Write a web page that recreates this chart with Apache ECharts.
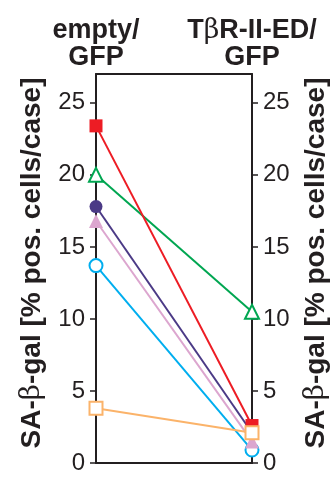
<!DOCTYPE html>
<html><head><meta charset="utf-8">
<script src="https://cdn.jsdelivr.net/npm/echarts@6/dist/echarts.min.js"></script>
<style>html,body{margin:0;padding:0;background:#fff}#c{width:333px;height:477px}</style>
</head><body><div id="c"></div>
<script>
const categories = ['empty/\nGFP', 'T{b|β}R-II-ED/\nGFP'];
const yTicks = [0, 5, 10, 15, 20, 25];
const redVals = [23.4, 2.6];
const greenVals = [20.0, 10.5];
const purpleVals = [17.8, 2.1];
const pinkVals = [16.8, 1.5];
const cyanVals = [13.7, 0.9];
const orangeVals = [3.8, 2.1];

const ink = '#231f20';
const font = '"Liberation Sans", Arial, sans-serif';
const serif = '"DejaVu Serif", "Liberation Serif", serif';
const yName = 'SA-{b|β}-gal [% pos. cells/case]';

function mkY(pos, gap) {
  return {
    type: 'value', position: pos, min: 0, max: 27,
    name: yName, nameLocation: 'middle', nameRotate: 90, nameGap: gap,
    nameTextStyle: { fontFamily: font, fontWeight: 'bold', fontSize: 28, color: ink, padding: [0, 0, 0, 11],
      rich: { b: { fontFamily: serif, fontWeight: 'normal', fontSize: 28, color: ink } } },
    axisLine: { show: true, onZero: false, lineStyle: { color: ink, width: 2 } },
    axisTick: { show: true, inside: false, length: 6, lineStyle: { color: ink, width: 1.5 }, customValues: yTicks },
    axisLabel: { show: true, margin: 11, fontFamily: font, fontSize: 24, color: ink, customValues: yTicks },
    splitLine: { show: false }
  };
}

function mkSeries(vals, color, symbol, hollow) {
  return {
    type: 'line', data: vals, xAxisIndex: 0, yAxisIndex: 0,
    symbol: symbol, symbolSize: symbol === 'triangle' ? 14 : 13,
    clip: false,
    lineStyle: { color: color, width: 2 },
    itemStyle: hollow ? { color: '#fff', borderColor: color, borderWidth: 2 } : { color: color, borderColor: color, borderWidth: 0 },
    emphasis: { disabled: true }
  };
}

const chart = echarts.init(document.getElementById('c'), null, { renderer: 'canvas' });
chart.setOption({
  animation: false,
  grid: { left: 96, right: 81, top: 74, bottom: 14 },
  xAxis: [
    { type: 'category', data: categories, boundaryGap: false, position: 'top',
      axisLine: { show: true, onZero: false, lineStyle: { color: ink, width: 2 } },
      axisTick: { show: false },
      axisLabel: { show: true, margin: 3, interval: 0, fontFamily: font, fontWeight: 'bold', fontSize: 27, lineHeight: 27, color: ink,
        rich: { b: { fontFamily: serif, fontWeight: 'normal', fontSize: 27, lineHeight: 27, color: ink } } } },
    { type: 'category', data: categories, boundaryGap: false, position: 'bottom',
      axisLine: { show: true, onZero: false, lineStyle: { color: ink, width: 2 } },
      axisTick: { show: false }, axisLabel: { show: false } }
  ],
  yAxis: [mkY('left', 50), mkY('right', 50)],
  series: [
    mkSeries(greenVals, '#00a651', 'triangle', true),
    mkSeries(cyanVals, '#00aeef', 'circle', true),
    mkSeries(purpleVals, '#4b3a86', 'circle', false),
    mkSeries(pinkVals, '#dca6cf', 'triangle', false),
    mkSeries(redVals, '#ed1c24', 'rect', false),
    mkSeries(orangeVals, '#fbb36a', 'rect', true)
  ]
});
</script></body></html>
